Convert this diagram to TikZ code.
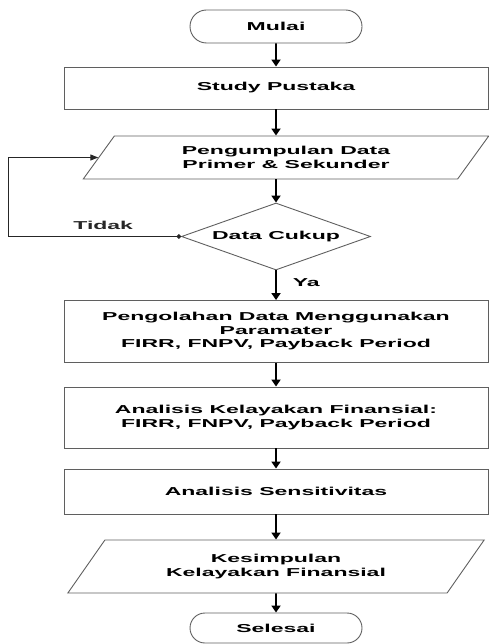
\documentclass[tikz,border=0pt]{standalone}
\usepackage{fontspec}
\newfontfamily\flujo{Liberation Sans}[FakeStretch=2.0]
\usepackage{xcolor}
\definecolor{grisbd}{RGB}{95,95,95}
\usepackage{tikz}
\usetikzlibrary{shapes, arrows.meta, positioning}

\tikzset{
    caja/.style={draw=grisbd, line width=0.9pt, minimum width=424pt, align=center, inner sep=0pt},
    termi/.style={draw=grisbd, line width=0.9pt, rounded rectangle, minimum width=172pt, inner sep=0pt},
    datos/.style={draw=grisbd, line width=0.9pt, trapezium, trapezium stretches=true, align=center, inner sep=0pt},
    decision/.style={draw=grisbd, line width=0.9pt, diamond, shape aspect=2.8, minimum width=189pt, minimum height=67pt, inner sep=0pt},
    flecha/.style={-{Triangle[width=9pt,length=7pt]}, line width=1.8pt},
    lazo/.style={{Circle[length=4.5pt]}-{Triangle[width=6pt,length=8pt]}, line width=1.1pt, black!85},
    etiq/.style={inner sep=0pt}
}

\begin{document}
\begin{tikzpicture}[x=1pt, y=1pt, font=\flujo\bfseries\fontsize{11.5}{13.5}\selectfont]
    % Marco de la figura
    \useasboundingbox (0,0) rectangle (489,-644);
    % Nodos del diagrama
    \node[termi, minimum height=33pt] (mulai) at (276,-26.5) {Mulai};
    \node[caja, minimum height=42pt] (study) at (276,-88) {Study Pustaka};
    \node[datos, trapezium left angle=49.3, trapezium right angle=130.7,
          minimum width=406pt, minimum height=43pt] (data) at (286,-157.5)
          {Pengumpulan Data\\Primer \& Sekunder};
    \node[decision] (cukup) at (276,-236.5) {Data Cukup};
    \node[caja, minimum height=62pt] (olah) at (276,-331.5)
          {Pengolahan Data Menggunakan\\Paramater\\FIRR, FNPV, Payback Period};
    \node[caja, minimum height=61pt] (analisis) at (276,-417.5)
          {Analisis Kelayakan Finansial:\\FIRR, FNPV, Payback Period};
    \node[caja, minimum height=45pt] (sensi) at (276,-491.5) {Analisis Sensitivitas};
    \node[datos, trapezium left angle=45.5, trapezium right angle=134.5,
          minimum width=418pt, minimum height=53pt] (simpul) at (276,-566.5)
          {Kesimpulan\\Kelayakan Finansial};
    \node[termi, minimum height=30pt] (selesai) at (276,-628) {Selesai};
    % Flechas principales
    \draw[flecha] (mulai) -- (study);
    \draw[flecha] (study.south) -- (study.south |- data.north);
    \draw[flecha] (data.south -| cukup.north) -- (cukup);
    \draw[flecha] (cukup) -- (olah) node[etiq, midway, anchor=west, xshift=16pt, yshift=3pt] {Ya};
    \draw[flecha] (olah) -- (analisis);
    \draw[flecha] (analisis) -- (sensi);
    \draw[flecha] (sensi) -- (sensi.south |- simpul.north);
    \draw[flecha] (simpul) -- (selesai);
    % Retorno cuando los datos no bastan
    \draw[lazo] (cukup.west) -- ++(-173,0) node[etiq, pos=0.45, above=6pt] {Tidak} |- (data.west);
\end{tikzpicture}
\end{document}
